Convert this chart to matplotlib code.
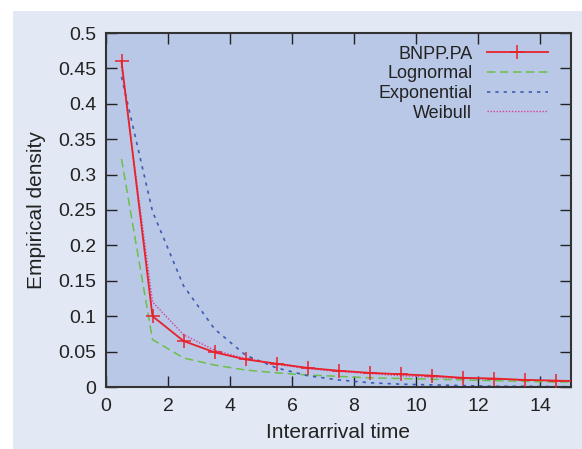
import numpy as np
import matplotlib.pyplot as plt
from matplotlib.patches import Rectangle

plt.rcParams['font.family'] = ['Liberation Sans', 'DejaVu Sans']

# bin centres of the interarrival histogram
x = [0.5, 1.5, 2.5, 3.5, 4.5, 5.5, 6.5, 7.5, 8.5, 9.5, 10.5, 11.5, 12.5, 13.5, 14.5, 15.5]

bnpp = [0.460, 0.100, 0.065, 0.049, 0.039, 0.033, 0.027, 0.023, 0.020, 0.018,
        0.016, 0.013, 0.012, 0.010, 0.009, 0.008]
lognormal = [0.322, 0.067, 0.041, 0.031, 0.024, 0.020, 0.017, 0.015, 0.013, 0.012,
             0.011, 0.010, 0.009, 0.008, 0.007, 0.007]
exponential = [0.438, 0.248, 0.143, 0.082, 0.045, 0.027, 0.016, 0.010, 0.006, 0.004,
               0.003, 0.002, 0.001, 0.001, 0.0005, 0.0003]
weibull = [0.452, 0.120, 0.074, 0.052, 0.040, 0.032, 0.026, 0.022, 0.019, 0.016,
           0.014, 0.012, 0.011, 0.010, 0.009, 0.008]

fig = plt.figure(figsize=(5.82, 4.49), dpi=100)
fig.patch.set_facecolor('white')
fig.patches.append(Rectangle((13/582, 0), 1, 1 - 11/449, transform=fig.transFigure,
                             facecolor='#e2e9f5', edgecolor='none', zorder=-10))

ax = fig.add_axes([106/582, 62/449, 465/582, 354/449])
ax.set_facecolor('#b9c8e6')

ax.plot(x, bnpp, color='#e8212b', lw=1.3, marker='+', ms=10, mew=1.1, label='BNPP.PA', zorder=5)
ax.plot(x, lognormal, color='#6cc04a', lw=1.1, ls=(0, (5.5, 3)), label='Lognormal')
ax.plot(x, exponential, color='#3d5cb3', lw=1.2, ls=(0, (2, 3)), label='Exponential')
ax.plot(x, weibull, color='#d4409e', lw=1.0, ls=(0, (1, 1.2)), label='Weibull')

ax.set_xlim(0, 15)
ax.set_ylim(0, 0.5)
ax.set_xticks(np.arange(0, 15, 2))
ax.set_yticks(np.arange(0, 0.51, 0.05))
ax.set_yticklabels(['0', '0.05', '0.1', '0.15', '0.2', '0.25', '0.3', '0.35', '0.4', '0.45', '0.5'])

ax.tick_params(direction='in', length=8, width=1, colors='#222222', labelsize=14,
               top=True, right=True)
ax.tick_params(axis='x', pad=8)
ax.tick_params(axis='y', pad=7)
for s in ax.spines.values():
    s.set_linewidth(1.5)
    s.set_color('#333333')

ax.set_xlabel('Interarrival time', fontsize=15, color='#222222', labelpad=6)
ax.set_ylabel('Empirical density', fontsize=15, color='#222222', labelpad=9)

leg = ax.legend(loc='upper right', frameon=False, markerfirst=False, fontsize=13,
                handlelength=3.4, labelspacing=0.15, borderaxespad=0.3,
                handletextpad=0.8, bbox_to_anchor=(0.978, 1.0))
for t in leg.get_texts():
    t.set_ha('right')
    t.set_color('#222222')

fig.savefig('out.png', dpi=100)
